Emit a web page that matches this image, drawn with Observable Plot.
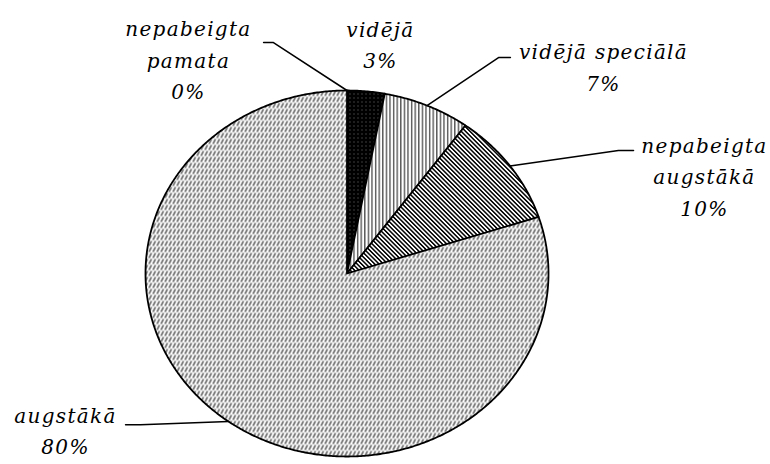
<!DOCTYPE html>
<html><head><meta charset="utf-8">
<script src="https://cdn.jsdelivr.net/npm/d3@7"></script>
<script src="https://cdn.jsdelivr.net/npm/@observablehq/plot@0.6"></script>
<style>body{margin:0;background:#fff}</style>
</head><body><div id="chart"></div>
<script>
// ---- data ----
const categories = ["nepabeigta pamata", "vidējā", "vidējā speciālā", "nepabeigta augstākā", "augstākā"];
const labelLines = [["nepabeigta", "pamata"], ["vidējā"], ["vidējā speciālā"], ["nepabeigta", "augstākā"], ["augstākā"]];
const values = [0, 3, 7, 10, 80];
const percentLabels = ["0%", "3%", "7%", "10%", "80%"];

// ---- layout / style (data units of the pie: radius = 1) ----
const patternIds = ["pat-none", "pat-dots", "pat-vert", "pat-diag", "pat-dash"];
const labelPos = [[-0.787, 1.180], [0.166, 1.262], [1.273, 1.140], [1.774, 0.542], [-1.397, -0.846]];
const leaderElbow = [[-0.365, 1.262], null, [0.752, 1.180], [1.347, 0.672], [-1.025, -0.826]];
const leaderEnd = [[-0.414, 1.262], null, [0.811, 1.180], [1.422, 0.672], [-1.099, -0.826]];

const arcs = d3.pie().sort(null).value(d => d)(values);
const slices = arcs.map((a, i) => {
  const pts = [{x: 0, y: 0}];
  const n = Math.max(2, Math.ceil((a.endAngle - a.startAngle) / (Math.PI / 360)));
  for (let k = 0; k <= n; k++) {
    const t = a.startAngle + (a.endAngle - a.startAngle) * k / n;
    pts.push({x: Math.sin(t), y: Math.cos(t)});
  }
  return {i, pts, mid: (a.startAngle + a.endAngle) / 2, value: values[i]};
});

const leaders = [];
slices.forEach(s => {
  const e = leaderElbow[s.i], f = leaderEnd[s.i];
  if (!e) return;
  leaders.push({g: s.i, x: Math.sin(s.mid), y: Math.cos(s.mid)});
  leaders.push({g: s.i, x: e[0], y: e[1]});
  leaders.push({g: s.i, x: f[0], y: f[1]});
});

const labels = categories.map((c, i) => ({
  x: labelPos[i][0], y: labelPos[i][1],
  text: [...labelLines[i], percentLabels[i]].join("\n")
}));

const sliceMarks = slices.filter(s => s.value > 0).map(s =>
  Plot.line(s.pts, {x: "x", y: "y", curve: "linear-closed", fill: `url(#${patternIds[s.i]})`,
    stroke: "black", strokeWidth: 1.8, strokeLinejoin: "round"})
);

const svg = Plot.plot({
  width: 770, height: 464,
  marginLeft: 145, marginRight: 222, marginTop: 90, marginBottom: 8,
  x: {domain: [-1, 1], axis: null},
  y: {domain: [-1, 1], axis: null},
  style: {background: "white", overflow: "visible", letterSpacing: "1.3px"},
  marks: [
    ...sliceMarks,
    Plot.line(leaders, {x: "x", y: "y", z: "g", stroke: "black", strokeWidth: 1.5}),
    Plot.text(labels, {x: "x", y: "y", text: "text", fontSize: 20, fontStyle: "italic",
      fontFamily: "DejaVu Serif", lineHeight: 1.575, fill: "black", textAnchor: "middle"})
  ]
});

const ns = "http://www.w3.org/2000/svg";
const defs = document.createElementNS(ns, "defs");
defs.innerHTML = `
<pattern id="pat-dots" width="4" height="4" patternUnits="userSpaceOnUse">
  <rect width="4" height="4" fill="black"/><rect x="1" y="1" width="1" height="1" fill="#777"/>
</pattern>
<pattern id="pat-vert" width="3.6" height="4" patternUnits="userSpaceOnUse">
  <rect width="3.6" height="4" fill="white"/><rect x="0" y="0" width="1.4" height="4" fill="#555"/>
</pattern>
<pattern id="pat-diag" width="3.1" height="4" patternUnits="userSpaceOnUse" patternTransform="rotate(-45)">
  <rect width="3.1" height="4" fill="white"/><rect x="0" y="0" width="1.5" height="4" fill="black"/>
</pattern>
<pattern id="pat-dash" width="4" height="6" patternUnits="userSpaceOnUse">
  <rect width="4" height="6" fill="white"/><path d="M0.5,5.5 L3,0.5" stroke="#444" stroke-width="1.4"/>
</pattern>`;
svg.insertBefore(defs, svg.firstChild);
document.getElementById("chart").appendChild(svg);
</script>
</body></html>
